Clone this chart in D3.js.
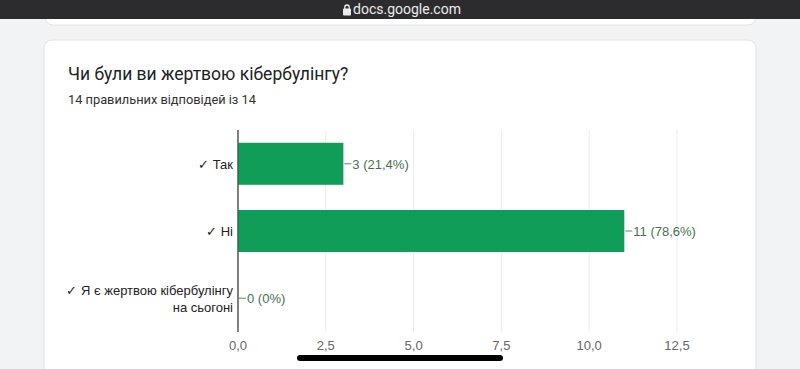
<!DOCTYPE html>
<html>
<head>
<meta charset="utf-8">
<script src="https://cdn.jsdelivr.net/npm/d3@7"></script>
<style>
  html, body { margin: 0; padding: 0; background: #f1f3f4; }
  svg { display: block; font-family: Roboto, "Noto Sans", Arial, sans-serif; }
  .plot text { font-family: "Liberation Sans", Arial, sans-serif; }
</style>
</head>
<body>
<svg id="chart" width="800" height="369"></svg>
<script>
// chart data
const categories = ['Так', 'Ні', 'Я є жертвою кібербулінгу на сьогоні'];
const labelLines = [['✓ Так'], ['✓ Ні'], ['✓ Я є жертвою кібербулінгу', 'на сьогоні']];
const counts = [3, 11, 0];
const percents = ['21,4%', '78,6%', '0%'];
const xTicks = [0, 2.5, 5, 7.5, 10, 12.5];
const title = 'Чи були ви жертвою кібербулінгу?';
const subtitle = '14 правильних відповідей із 14';

const svg = d3.select('#chart');

// previous card (bottom edge only visible)
svg.append('rect').attr('x', 45).attr('y', -10).attr('width', 711).attr('height', 35)
    .attr('rx', 8).attr('fill', '#fff').attr('stroke', '#e2e4e6');

// phone browser chrome
svg.append('rect').attr('x', 0).attr('y', 0).attr('width', 800).attr('height', 19).attr('fill', '#2c2c2e');
svg.append('text').attr('x', 407).attr('y', 14).attr('text-anchor', 'middle')
    .attr('fill', '#ececec').attr('font-size', 14).text('docs.google.com');
// lock icon
const lock = svg.append('g').attr('transform', 'translate(343,4)');
lock.append('rect').attr('x', 0).attr('y', 4.5).attr('width', 8).attr('height', 7).attr('rx', 1).attr('fill', '#ececec');
lock.append('path').attr('d', 'M1.8,5 V3.2 a2.2,2.2 0 0 1 4.4,0 V5').attr('fill', 'none')
    .attr('stroke', '#ececec').attr('stroke-width', 1.3);

// main card
svg.append('rect').attr('x', 44).attr('y', 40).attr('width', 712).attr('height', 340)
    .attr('rx', 8).attr('fill', '#fff').attr('stroke', '#e2e4e6');

svg.append('text').attr('x', 68).attr('y', 80).attr('fill', '#202124')
    .attr('font-size', 17.5).text(title);
svg.append('text').attr('x', 68).attr('y', 104).attr('fill', '#303134')
    .attr('font-size', 12.8).text(subtitle);

const plot = svg.append('g').attr('class', 'plot');

// plot area
const x = d3.scaleLinear().domain([0, 12.5]).range([238, 677]);
const y = d3.scaleBand().domain(categories).range([130, 332]).paddingInner(0.375).paddingOuter(0.19);

// gridlines
plot.append('g').selectAll('line').data(xTicks.slice(1)).enter().append('line')
    .attr('x1', d => x(d)).attr('x2', d => x(d))
    .attr('y1', 130).attr('y2', 332)
    .attr('stroke', '#ebebeb').attr('stroke-width', 1);

// bars
plot.append('g').selectAll('rect').data(categories).enter().append('rect')
    .attr('x', x(0))
    .attr('y', d => y(d))
    .attr('width', (d, i) => x(counts[i]) - x(0))
    .attr('height', y.bandwidth())
    .attr('fill', '#0f9d58');

// value labels with connector
const vals = plot.append('g').selectAll('g').data(categories).enter().append('g');
vals.append('line')
    .attr('x1', (d, i) => x(counts[i]) + 1)
    .attr('x2', (d, i) => x(counts[i]) + 8)
    .attr('y1', d => y(d) + y.bandwidth() / 2)
    .attr('y2', d => y(d) + y.bandwidth() / 2)
    .attr('stroke', '#5a8a66').attr('stroke-width', 1);
vals.append('text')
    .attr('x', (d, i) => x(counts[i]) + 9)
    .attr('y', d => y(d) + y.bandwidth() / 2 + 5)
    .attr('fill', '#3f7350').attr('font-size', 13)
    .text((d, i) => counts[i] + ' (' + percents[i] + ')');

// category labels
const cat = plot.append('g').selectAll('text').data(categories).enter().append('text')
    .attr('text-anchor', 'end').attr('fill', '#222').attr('font-size', 13);
cat.each(function (d, i) {
    const lines = labelLines[i];
    const cy = y(d) + y.bandwidth() / 2;
    lines.forEach((ln, j) => {
        d3.select(this).append('tspan')
            .attr('x', 233)
            .attr('y', cy + 5 + (j - (lines.length - 1) / 2) * 17)
            .text(ln);
    });
});

// axis line
plot.append('line').attr('x1', x(0)).attr('x2', x(0)).attr('y1', 130).attr('y2', 332)
    .attr('stroke', '#555').attr('stroke-width', 1.5);

// x tick labels
const fmt = d => d3.format('.1f')(d).replace('.', ',');
plot.append('g').selectAll('text').data(xTicks).enter().append('text')
    .attr('x', d => x(d)).attr('y', 350).attr('text-anchor', 'middle')
    .attr('fill', '#666').attr('font-size', 13).text(fmt);

// home indicator
svg.append('rect').attr('x', 297).attr('y', 355).attr('width', 206).attr('height', 6)
    .attr('rx', 3).attr('fill', '#000');
</script>
</body>
</html>
